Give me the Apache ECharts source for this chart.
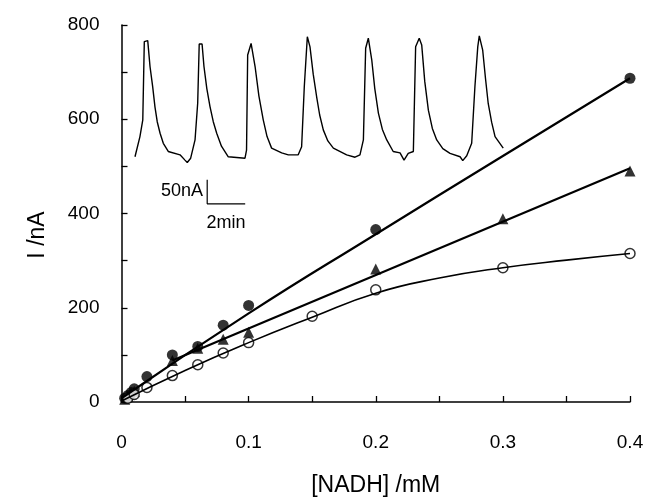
<!DOCTYPE html>
<html>
<head>
<meta charset="utf-8">
<script src="https://cdn.jsdelivr.net/npm/echarts@6/dist/echarts.min.js"></script>
<style>html,body{margin:0;padding:0;background:#fff}#c{width:647px;height:502px}</style>
</head>
<body>
<div id="c"></div>
<script>
// Main data: [NADH] (mM) vs current (nA)
const filledX = [0.0025, 0.005, 0.0075, 0.01, 0.02, 0.04, 0.06, 0.08, 0.1, 0.2, 0.4];
const filledY = [8, 14, 20, 28, 54, 100, 118, 163, 205, 366, 687];
const triX = [0.0025, 0.005, 0.0075, 0.01, 0.04, 0.06, 0.08, 0.1, 0.2, 0.3, 0.4];
const triY = [6, 12, 17, 23, 88, 114, 133, 148, 282, 389, 490];
const openX = [0.005, 0.01, 0.02, 0.04, 0.06, 0.08, 0.1, 0.15, 0.2, 0.3, 0.4];
const openY = [8, 16, 31, 56, 79, 104, 126, 182, 238, 285, 315];
// Fitted curves
const fitFilledX = [0, 0.1, 0.2, 0.3, 0.4];
const fitFilledY = [8, 188, 356, 522, 687];
const fitTriX = [0.04, 0.4];
const fitTriY = [88, 496];
const fitOpenX = [0, 0.05, 0.1, 0.15, 0.2, 0.25, 0.3, 0.35, 0.4];
const fitOpenY = [2, 67, 126, 180, 231, 263, 285, 301, 315];
// Inset trace: time (min) vs current (nA, relative)
const traceT = [0, 0.26, 0.41, 0.49, 0.67, 0.79, 0.93, 1.05, 1.17, 1.32, 1.49, 1.75, 2.37, 2.63, 2.75, 2.93, 3.16, 3.30, 3.38, 3.53, 3.63, 3.78, 3.95, 4.12, 4.30, 4.55, 4.91, 5.79, 5.87, 5.93, 6.11, 6.32, 6.52, 6.75, 6.95, 7.19, 7.72, 8.07, 8.59, 8.77, 8.91, 9.07, 9.21, 9.38, 9.56, 9.72, 9.91, 10.15, 10.44, 11.14, 11.58, 11.84, 12.02, 12.14, 12.28, 12.46, 12.62, 12.81, 13.02, 13.25, 13.59, 13.95, 14.16, 14.38, 14.65, 14.77, 14.96, 15.09, 15.25, 15.44, 15.65, 15.88, 16.2, 16.58, 17.11, 17.25, 17.46, 17.72, 17.89, 18.04, 18.12, 18.30, 18.45, 18.59, 18.77, 18.95, 19.38];
const traceI = [13, 55, 90, 253, 255, 201, 159, 117, 86, 62, 41, 24, 17, 6, 1, 10, 48, 125, 248, 248, 201, 155, 117, 86, 62, 35, 13, 10, 27, 225, 249, 201, 140, 90, 55, 31, 21, 17, 17, 34, 159, 263, 242, 185, 138, 100, 69, 46, 31, 17, 12, 17, 48, 239, 260, 215, 155, 104, 70, 48, 24, 21, 6, 20, 24, 242, 260, 246, 170, 110, 72, 48, 30, 20, 13, 5, 15, 41, 159, 242, 265, 235, 175, 124, 85, 55, 31];
// Scale bar: 50 nA, 2 min
const scaleT = [3.8, 3.8, 5.8];
const scaleI = [-35, -85, -85];
const xTicks = [0, 0.1, 0.2, 0.3, 0.4];
const yTicks = [0, 200, 400, 600, 800];

const zip = (a, b) => a.map((v, i) => [v, b[i]]);
const FONT = 'Liberation Sans';
const chart = echarts.init(document.getElementById('c'), null, {renderer: 'canvas'});
chart.setOption({
  animation: false,
  backgroundColor: '#fff',
  textStyle: {fontFamily: FONT},
  grid: [
    {left: 121.5, top: 25, width: 508.5, height: 389.5, containLabel: false},
    {left: 135, top: 33.4, width: 380, height: 177.6, containLabel: false}
  ],
  xAxis: [
    {
      type: 'value', gridIndex: 0, min: xTicks[0], max: xTicks[xTicks.length - 1], interval: 0.1,
      axisLine: {lineStyle: {color: '#000', width: 1.5}},
      axisTick: {inside: true, length: 6, lineStyle: {color: '#000', width: 1.3}},
      minorTick: {show: true, splitNumber: 2, length: 6, lineStyle: {color: '#000', width: 1.3}},
      splitLine: {show: false},
      axisLabel: {color: '#000', fontSize: 19, margin: 31, fontFamily: FONT,
        formatter: v => (v === 0 ? '0' : String(Math.round(v * 10) / 10))},
      name: '[NADH] /mM', nameLocation: 'middle', nameGap: 72,
      nameTextStyle: {color: '#000', fontSize: 23, fontFamily: FONT}
    },
    {type: 'value', gridIndex: 1, min: 0, max: 20, show: false}
  ],
  yAxis: [
    {
      type: 'value', gridIndex: 0, min: yTicks[0], max: yTicks[yTicks.length - 1], interval: 200,
      axisLine: {show: true, lineStyle: {color: '#000', width: 1.5}},
      axisTick: {show: true, inside: true, length: 6, lineStyle: {color: '#000', width: 1.3}},
      minorTick: {show: true, splitNumber: 2, length: 6, lineStyle: {color: '#000', width: 1.3}},
      splitLine: {show: false},
      axisLabel: {color: '#000', fontSize: 19, margin: 22, fontFamily: FONT}
    },
    {type: 'value', gridIndex: 1, min: -100, max: 270, show: false}
  ],
  series: [
    {type: 'line', xAxisIndex: 1, yAxisIndex: 1, data: zip(traceT, traceI), showSymbol: false,
      lineStyle: {color: '#000', width: 1.4}, silent: true},
    {type: 'line', xAxisIndex: 1, yAxisIndex: 1, data: zip(scaleT, scaleI), showSymbol: false,
      lineStyle: {color: '#000', width: 1.2}, silent: true},
    {type: 'line', data: zip(fitFilledX, fitFilledY), smooth: true, showSymbol: false,
      lineStyle: {color: '#000', width: 2.2}},
    {type: 'line', data: zip(fitTriX, fitTriY), showSymbol: false,
      lineStyle: {color: '#000', width: 2.2}},
    {type: 'line', data: zip(fitOpenX, fitOpenY), smooth: true, showSymbol: false,
      lineStyle: {color: '#000', width: 1.6}},
    {type: 'scatter', data: zip(filledX, filledY), symbol: 'circle', symbolSize: 11,
      itemStyle: {color: '#000'}},
    {type: 'scatter', data: zip(triX, triY), symbol: 'triangle', symbolSize: 11,
      itemStyle: {color: '#000'}},
    {type: 'scatter', data: zip(openX, openY), symbol: 'circle', symbolSize: 10,
      itemStyle: {color: '#fff', borderColor: '#000', borderWidth: 1.5}}
  ],
  graphic: [
    {type: 'text', x: 38, y: 235, rotation: Math.PI / 2,
      style: {text: 'I /nA', fontSize: 23, fontFamily: FONT, fill: '#000', align: 'center', verticalAlign: 'middle'}},
    {type: 'text', x: 203, y: 191,
      style: {text: '50nA', fontSize: 18, fontFamily: FONT, fill: '#000', align: 'right', verticalAlign: 'middle'}},
    {type: 'text', x: 226, y: 223,
      style: {text: '2min', fontSize: 18, fontFamily: FONT, fill: '#000', align: 'center', verticalAlign: 'middle'}}
  ]
});
</script>
</body>
</html>
